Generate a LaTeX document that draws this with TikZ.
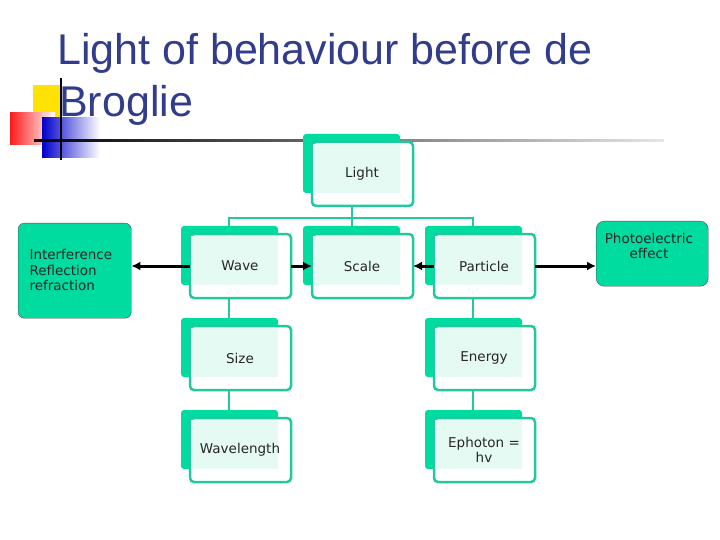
\documentclass[tikz,border=0pt]{standalone}
\usepackage{fontspec}
\usetikzlibrary{arrows.meta}
\setmainfont{Liberation Sans}
\newfontfamily\lblfont{DejaVu Sans}
\definecolor{gb}{HTML}{00DCA0}
\definecolor{gl}{HTML}{22C89E}
\definecolor{gi}{HTML}{E6FAF4}
\definecolor{tb}{HTML}{323C8C}
\begin{document}
\begin{tikzpicture}[x=1pt,y=-1pt,
  back/.style={fill=gb,rounded corners=3pt},
  front/.style={draw=gl,line width=2.5pt,fill=white,rounded corners=4pt},
  inner/.style={fill=gi},
  lbl/.style={font=\lblfont\fontsize{13.5}{15.5}\selectfont,align=center,text=black!85},
  tree/.style={draw=gl,line width=2pt},
  arr/.style={line width=3pt,-{Latex[length=9pt,width=9pt]}}]
\useasboundingbox (0,0) rectangle (720,540);
\fill[white] (0,0) rectangle (720,540);
% decoration
\fill[yellow!85!orange] (33,85) rectangle (60,117);
\shade[left color=red!90,right color=white] (10,113) rectangle (55,145);
\shade[left color=blue!80!black,right color=white] (42,118) rectangle (100,158);
\shade[left color=black,right color=gray!20] (34,140) rectangle (664,142);
\draw[line width=1.5pt] (61,78) -- (61,160);
\node[anchor=base west,text=tb,font=\fontsize{43}{46}\selectfont,inner sep=0] (t1) at (57,65) {Light of behaviour before de};
\node[anchor=base west,text=tb,font=\fontsize{43}{46}\selectfont,inner sep=0] (t2) at (59,117) {Broglie};
% boxes
\newcommand{\mybox}[4]{% name, x, y, text
  \fill[back] (#2,#3) rectangle ++(97,59);
  \draw[front] (#2+9,#3+8) rectangle ++(101,64);
  \fill[inner] (#2+10,#3+10) rectangle (#2+97,#3+59);
  \node[lbl] (#1) at (#2+59,#3+40) {#4};
  \coordinate (#1t) at (#2+48,#3);
  \coordinate (#1b) at (#2+59,#3+72);
  \coordinate (#1l) at (#2+9,#3+40);
  \coordinate (#1r) at (#2+110,#3+40);
}
\mybox{light}{303}{134}{Light}
\mybox{wave}{181}{226}{Wave}
\mybox{scale}{303}{226}{Scale}
\mybox{part}{425}{226}{Particle}
\mybox{size}{181}{318}{Size}
\mybox{energy}{425}{318}{Energy}
\mybox{wl}{181}{410}{Wavelength}
\mybox{eph}{425}{410}{Ephoton =\\ hv}
% tree
\draw[tree] (352,206) -- (352,218);
\draw[tree] (229,226) -- (229,218) -- (473,218) -- (473,226);
\draw[tree] (352,218) -- (352,226);
\draw[tree] (229,299) -- (229,318);
\draw[tree] (473,299) -- (473,318);
\draw[tree] (229,391) -- (229,410);
\draw[tree] (473,391) -- (473,410);
% side boxes
\node[draw=black!70,fill=gb,rounded corners=6pt,minimum width=113pt,minimum height=95pt,anchor=north west,inner sep=0] (intf) at (18,223) {};
\node[lbl,anchor=west,align=left] at (26,270) {Interference\\Reflection\\refraction};
\node[draw=black!70,fill=gb,rounded corners=8pt,minimum width=112pt,minimum height=65pt,anchor=north west,inner sep=0] (photo) at (596,221) {};
\node[lbl,align=center] at (649,246) {Photoelectric\\effect};
% arrows
\draw[arr] (wavel) -- (intf.east |- wavel);
\draw[arr] (waver) -- (scalel);
\draw[arr] (partl) -- (scaler);
\draw[arr] (partr) -- (photo.west |- partr);
\end{tikzpicture}
\end{document}
